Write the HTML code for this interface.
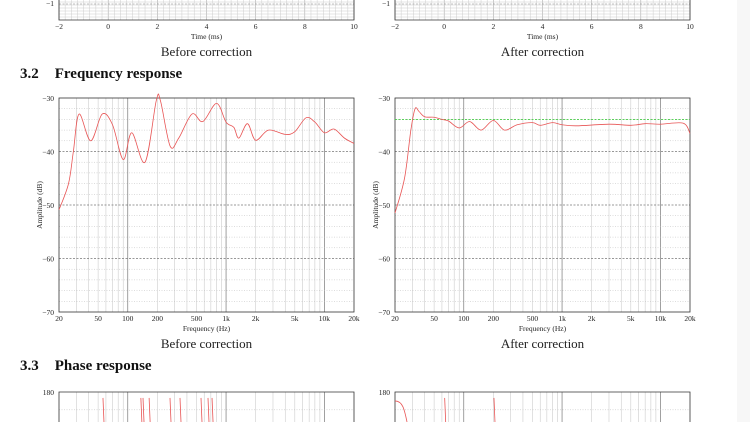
<!DOCTYPE html>
<html><head><meta charset="utf-8"><style>
html,body{margin:0;padding:0;background:#fff;}
body{width:750px;height:422px;overflow:hidden;position:relative;font-family:"Liberation Serif",serif;}
svg{position:absolute;left:0;top:0;overflow:hidden;}
</style></head><body>
<svg id="s" width="750" height="422" viewBox="0 0 750 422">
<rect x="737" y="0" width="13" height="422" fill="#f7f7f7"/>
<text x="20" y="78" font-size="15" font-weight="bold" fill="#111">3.2<tspan dx="16">Frequency response</tspan></text>
<text x="20" y="370" font-size="15" font-weight="bold" fill="#111">3.3<tspan dx="16">Phase response</tspan></text>
</svg>
<script>
// ---- data ----
const timeTicks = [-2,0,2,4,6,8,10];
const freqTicks = [20,50,100,200,500,1000,2000,5000,10000,20000];
const freqTickLabels = ["20","50","100","200","500","1k","2k","5k","10k","20k"];
const dbTicks = [-30,-40,-50,-60,-70];
const beforeFreq = [20,25,28,32,42,55,70,90,110,150,195,215,270,330,450,580,800,1000,1200,1350,1650,2000,2700,4000,5000,6500,8000,10000,12500,16000,20000];
const beforeDb = [-50.9,-46,-40,-33,-38,-33,-35,-41.5,-36.5,-42,-30.5,-30.5,-39,-37.5,-33,-34.4,-31,-34.5,-35.5,-37.5,-34.8,-37.9,-36,-36.8,-36.3,-33.7,-34.5,-36.5,-35.8,-37.5,-38.5];
const afterFreq = [20,25,29,32,35,40,50,60,70,90,115,150,200,260,350,500,600,800,1000,1400,3000,5000,7000,10000,17000,20000];
const afterDb = [-51.5,-45,-36,-32,-32.5,-33.5,-33.6,-34,-34.3,-35.6,-34.4,-36,-34.2,-36,-35,-34.6,-35.1,-34.6,-35,-35.2,-34.9,-35.1,-34.8,-34.9,-34.7,-36.6];
const targetDb = -34;
const phaseBeforeSpikes = [56,136,143,165,269,340,556,655,720];
const phaseAfterSpikes = [64,203];

const S=document.getElementById('s');
const NS='http://www.w3.org/2000/svg';
function el(t,a,p){const e=document.createElementNS(NS,t);for(const k in a)e.setAttribute(k,a[k]);(p||S).appendChild(e);return e;}

function freqX(x0,x1){return f=>x0+(Math.log10(f/20)/3)*(x1-x0);}
function dbY(y0,y1){return d=>y0+(-30-d)/40*(y1-y0);}

function curvePath(xs,ys,sx,sy){
  const P=xs.map((f,i)=>[sx(f),sy(ys[i])]);
  let d='M'+P[0][0].toFixed(2)+','+P[0][1].toFixed(2);
  for(let i=0;i<P.length-1;i++){
    const p0=P[i-1]||P[i],p1=P[i],p2=P[i+1],p3=P[i+2]||P[i+1];
    const c1=[p1[0]+(p2[0]-p0[0])/6,p1[1]+(p2[1]-p0[1])/6];
    const c2=[p2[0]-(p3[0]-p1[0])/6,p2[1]-(p3[1]-p1[1])/6];
    d+=`C${c1[0].toFixed(2)},${c1[1].toFixed(2)} ${c2[0].toFixed(2)},${c2[1].toFixed(2)} ${p2[0].toFixed(2)},${p2[1].toFixed(2)}`;
  }
  return d;
}

function logGrid(g,x0,x1,y0,y1){
  const sx=freqX(x0,x1);
  for(let dec=10;dec<=10000;dec*=10)for(let m=1;m<10;m++){
    const f=dec*m; if(f<=20||f>=20000)continue;
    const major=(m===1);
    const l=el('line',{x1:sx(f),x2:sx(f),y1:y0,y2:y1,stroke:major?'#888':'#cdcdcd','stroke-width':major?0.8:0.6},g);
    
    
  }
}

function freqChart(name,x0,x1,y0,y1,xs,ys,caption,target){
  const g=el('g',{});
  const sx=freqX(x0,x1),sy=dbY(y0,y1);
  logGrid(g,x0,x1,y0,y1);
  for(let d=-32;d>-70;d-=2){
    const major=d%10===0;
    const l=el('line',{x1:x0,x2:x1,y1:sy(d),y2:sy(d),stroke:major?'#777':'#bbb','stroke-width':major?0.7:0.5,'stroke-dasharray':major?'2,1.5':'1,1.5'},g);
    
    
  }
  el('rect',{x:x0,y:y0,width:x1-x0,height:y1-y0,fill:'none',stroke:'#333','stroke-width':0.8,},g);
  dbTicks.forEach(d=>{
    const t=el('text',{x:x0-5,y:sy(d)+3,'font-size':7.5,'text-anchor':'end',fill:'#222'},g);t.textContent='−'+(-d);
    
  });
  freqTicks.forEach((f,i)=>{
    const t=el('text',{x:sx(f),y:y1+9,'font-size':7.5,'text-anchor':'middle',fill:'#222'},g);t.textContent=freqTickLabels[i];
    
  });
  const xl=el('text',{x:(x0+x1)/2,y:y1+19,'font-size':7.5,'text-anchor':'middle',fill:'#222',},g);xl.textContent='Frequency (Hz)';
  const yl=el('text',{x:0,y:0,'font-size':7.5,'text-anchor':'middle',fill:'#222',transform:`translate(${x0-17},${(y0+y1)/2}) rotate(-90)`,},g);yl.textContent='Amplitude (dB)';
  if(target!==undefined){
    el('line',{x1:x0,x2:x1,y1:sy(target),y2:sy(target),stroke:'#4c4','stroke-width':0.9,'stroke-dasharray':'2,1.5',},g);
  }
  el('path',{d:curvePath(xs,ys,sx,sy),fill:'none',stroke:'#e85555','stroke-width':0.8,},g);
  const c=el('text',{x:(x0+x1)/2,y:y1+36,'font-size':13,'text-anchor':'middle',fill:'#222',},g);c.textContent=caption;
}

function timeChart(name,x0,x1,y1,caption){
  const g=el('g',{});
  const sx=t=>x0+(t+2)/12*(x1-x0);
  for(let t=-2;t<=10.001;t+=0.25){
    const major=Math.abs(t-Math.round(t/2)*2)<1e-6;
    const l=el('line',{x1:sx(t),x2:sx(t),y1:0,y2:y1,stroke:major?'#999':'#ccc','stroke-width':0.5},g);
    
  }
  for(let y=y1-3;y>0;y-=3){
    const l=el('line',{x1:x0,x2:x1,y1:y,y2:y,stroke:'#ccc','stroke-width':0.5},g);
    
  }
  el('line',{x1:x0,x2:x1,y1:4,y2:4,stroke:'#888','stroke-width':0.6,'stroke-dasharray':'2,1.5'},g);
  el('path',{d:`M${x0},0 V${y1} H${x1} V0`,fill:'none',stroke:'#333','stroke-width':0.8,},g);
  const m=el('text',{x:x0-5,y:6,'font-size':7.5,'text-anchor':'end',fill:'#222',},g);m.textContent='−1';
  timeTicks.forEach(t=>{
    const e=el('text',{x:sx(t),y:y1+9,'font-size':7.5,'text-anchor':'middle',fill:'#222'},g);e.textContent=t<0?'−'+(-t):t;
    
  });
  const xl=el('text',{x:(x0+x1)/2,y:y1+19,'font-size':7.5,'text-anchor':'middle',fill:'#222',},g);xl.textContent='Time (ms)';
  const c=el('text',{x:(x0+x1)/2,y:y1+36,'font-size':13,'text-anchor':'middle',fill:'#222',},g);c.textContent=caption;
}

function phaseChart(name,x0,x1,y0,spikes,after){
  const g=el('g',{});
  const yb=422;
  const sx=freqX(x0,x1), sy=p=>y0+(180-p)/360*214;
  logGrid(g,x0,x1,y0,yb);
  for(let p=150;sy(p)<yb;p-=30){
    const l=el('line',{x1:x0,x2:x1,y1:sy(p),y2:sy(p),stroke:'#bbb','stroke-width':0.5,'stroke-dasharray':'1,1.5'},g);
    
  }
  el('path',{d:`M${x0},${yb} V${y0} H${x1} V${yb}`,fill:'none',stroke:'#333','stroke-width':0.8,},g);
  const t=el('text',{x:x0-5,y:y0+3,'font-size':7.5,'text-anchor':'end',fill:'#222',},g);t.textContent='180';
  spikes.forEach(f=>{
    const x=sx(f);
    const p=el('path',{d:`M${x},${sy(170)} L${x+1},${yb}`,fill:'none',stroke:'#e85555','stroke-width':0.8},g);
    
  });
  if(after){
    const p=el('path',{d:`M${sx(20)},${sy(165)} C${sx(24)},${sy(165)} ${sx(25)},${sy(150)} ${sx(26.5)},${yb}`,fill:'none',stroke:'#e85555','stroke-width':0.8},g);
    
  }
}

timeChart('impulse-before-chart',59,354,20,'Before correction');
timeChart('impulse-after-chart',395,690,20,'After correction');
freqChart('freq-before-chart',59,354,98,312,beforeFreq,beforeDb,'Before correction');
freqChart('freq-after-chart',395,690,98,312,afterFreq,afterDb,'After correction',targetDb);
phaseChart('phase-before-chart',59,354,392,phaseBeforeSpikes,false);
phaseChart('phase-after-chart',395,690,392,phaseAfterSpikes,true);
</script>
</body></html>
